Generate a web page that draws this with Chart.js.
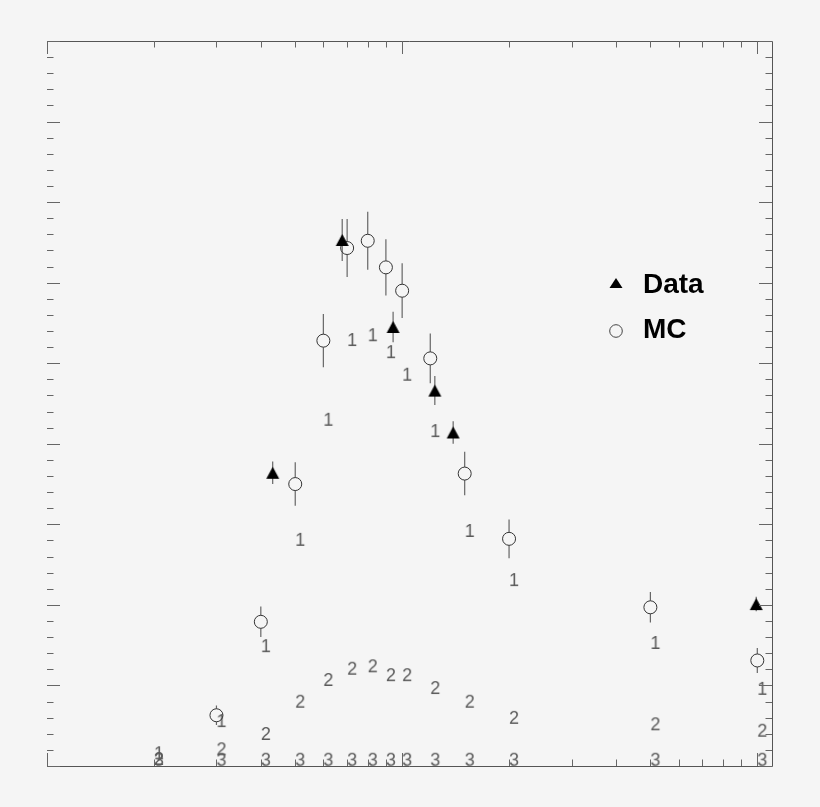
<!DOCTYPE html>
<html>
<head>
<meta charset="utf-8">
<script src="https://cdn.jsdelivr.net/npm/chart.js@4.4.1/dist/chart.umd.min.js"></script>
<style>
  html, body { margin: 0; padding: 0; background: #f5f5f5; }
  #wrap { width: 820px; height: 807px; }
</style>
</head>
<body>
<div id="wrap"><canvas id="plot" width="820" height="807"></canvas></div>
<script>
// MC (open circles) with errors
const mcX = [3, 4, 5, 6, 7, 8, 9, 10, 12, 15, 20, 50, 100];
const mcY = [0.63, 1.79, 3.50, 5.28, 6.43, 6.52, 6.19, 5.90, 5.06, 3.63, 2.82, 1.97, 1.31];
const mcErr = [0.12, 0.19, 0.27, 0.33, 0.36, 0.36, 0.35, 0.34, 0.31, 0.27, 0.24, 0.19, 0.155];

// Data (filled triangles) with errors
const dataX = [4.32, 6.78, 9.43, 12.36, 13.92, 99.3];
const dataY = [3.64, 6.53, 5.45, 4.66, 4.14, 2.01];
const dataErr = [0.14, 0.26, 0.19, 0.18, 0.14, 0.09];

// numbered markers 1, 2, 3
const markX = [2, 3, 4, 5, 6, 7, 8, 9, 10, 12, 15, 20, 50, 100];
const mark1 = [0.17, 0.57, 1.50, 2.82, 4.31, 5.30, 5.36, 5.15, 4.87, 4.17, 2.93, 2.32, 1.54, 0.97];
const mark2 = [0.10, 0.22, 0.41, 0.81, 1.08, 1.22, 1.25, 1.14, 1.14, 0.98, 0.81, 0.61, 0.53, 0.45];
const mark3 = [0.09, 0.09, 0.09, 0.09, 0.09, 0.09, 0.09, 0.09, 0.09, 0.09, 0.09, 0.09, 0.09, 0.09];

// axis ticks (no labels drawn)
const xMajorTicks = [1, 10, 100];
const xMinorTicks = [2, 3, 4, 5, 6, 7, 8, 9, 20, 30, 40, 50, 60, 70, 80, 90];
const yMajorTicks = [0, 1, 2, 3, 4, 5, 6, 7, 8, 9];
const yMinorTicks = [0.2, 0.4, 0.6, 0.8, 1.2, 1.4, 1.6, 1.8, 2.2, 2.4, 2.6, 2.8,
  3.2, 3.4, 3.6, 3.8, 4.2, 4.4, 4.6, 4.8, 5.2, 5.4, 5.6, 5.8, 6.2, 6.4, 6.6, 6.8,
  7.2, 7.4, 7.6, 7.8, 8.2, 8.4, 8.6, 8.8];

const legendNames = ['Data', 'MC'];

const MC_R = 6.5;

function pts(xs, ys) {
    return xs.map((x, i) => ({ x: x, y: ys[i] }));
}

// small canvas used as point style for a digit marker
function digitMark(ch) {
    const c = document.createElement('canvas');
    c.width = 34;
    c.height = 26;
    const g = c.getContext('2d');
    g.fillStyle = '#5a5a5a';
    g.font = '18px "Liberation Sans", Arial, sans-serif';
    g.textAlign = 'center';
    g.textBaseline = 'alphabetic';
    g.fillText(ch, 22, 13 + 6.5);
    return c;
}

function triangleMark(w, h) {
    const c = document.createElement('canvas');
    c.width = w + 2;
    c.height = h + 2;
    const g = c.getContext('2d');
    g.fillStyle = '#000';
    g.beginPath();
    g.moveTo(1, h + 1);
    g.lineTo(w + 1, h + 1);
    g.lineTo(w / 2 + 1, 1);
    g.closePath();
    g.fill();
    return c;
}

const errorBars = {
    id: 'errorBars',
    beforeDatasetsDraw(chart) {
        const { ctx, scales: { x, y } } = chart;
        ctx.save();
        ctx.strokeStyle = '#666';
        ctx.lineWidth = 1.2;
        // data: full bar, the triangle covers it
        dataX.forEach((v, i) => {
            const px = x.getPixelForValue(v);
            ctx.beginPath();
            ctx.moveTo(px, y.getPixelForValue(dataY[i] + dataErr[i]));
            ctx.lineTo(px, y.getPixelForValue(dataY[i] - dataErr[i]));
            ctx.stroke();
        });
        // mc: bar stops at the circle edge
        mcX.forEach((v, i) => {
            const px = x.getPixelForValue(v);
            const py = y.getPixelForValue(mcY[i]);
            const top = y.getPixelForValue(mcY[i] + mcErr[i]);
            const bot = y.getPixelForValue(mcY[i] - mcErr[i]);
            if (py - top > MC_R) {
                ctx.beginPath();
                ctx.moveTo(px, top);
                ctx.lineTo(px, py - MC_R);
                ctx.moveTo(px, py + MC_R);
                ctx.lineTo(px, bot);
                ctx.stroke();
            }
        });
        ctx.restore();
    }
};

const frame = {
    id: 'frame',
    afterDraw(chart) {
        const { ctx, chartArea: a, scales: { x, y } } = chart;
        ctx.save();
        ctx.strokeStyle = '#555';
        ctx.lineWidth = 1;
        // top, right, bottom lines (no left line)
        ctx.beginPath();
        ctx.moveTo(a.left, a.top + 0.5);
        ctx.lineTo(a.right + 0.5, a.top + 0.5);
        ctx.lineTo(a.right + 0.5, a.bottom + 0.5);
        ctx.lineTo(a.left, a.bottom + 0.5);
        ctx.stroke();

        ctx.strokeStyle = '#666';
        ctx.beginPath();
        const xt = (v, len) => {
            const px = Math.round(x.getPixelForValue(v)) + 0.5;
            ctx.moveTo(px, a.top);
            ctx.lineTo(px, a.top + len);
            ctx.moveTo(px, a.bottom);
            ctx.lineTo(px, a.bottom - len);
        };
        const yt = (v, len) => {
            const py = Math.round(y.getPixelForValue(v)) + 0.5;
            ctx.moveTo(a.left, py);
            ctx.lineTo(a.left + len, py);
            ctx.moveTo(a.right, py);
            ctx.lineTo(a.right - len, py);
        };
        xMajorTicks.forEach(v => xt(v, 13));
        xMinorTicks.forEach(v => xt(v, 6.5));
        yMajorTicks.forEach(v => yt(v, 13));
        yMinorTicks.forEach(v => yt(v, 6.5));
        ctx.stroke();

        // legend
        const lx = 616, ly1 = 283, ly2 = 331;
        ctx.fillStyle = '#000';
        ctx.beginPath();
        ctx.moveTo(lx - 6.5, ly1 + 5);
        ctx.lineTo(lx + 6.5, ly1 + 5);
        ctx.lineTo(lx, ly1 - 5);
        ctx.closePath();
        ctx.fill();
        ctx.strokeStyle = '#444';
        ctx.beginPath();
        ctx.arc(lx, ly2, 6.3, 0, Math.PI * 2);
        ctx.stroke();
        ctx.font = 'bold 28px "Liberation Sans", Arial, sans-serif';
        ctx.textBaseline = 'alphabetic';
        ctx.fillText(legendNames[0], 643, 293);
        ctx.fillText(legendNames[1], 643, 338);
        ctx.restore();
    }
};

const ctx = document.getElementById('plot').getContext('2d');
new Chart(ctx, {
    type: 'scatter',
    data: {
        datasets: [
            {
                label: legendNames[0],
                data: pts(dataX, dataY),
                pointStyle: triangleMark(13, 12),
                pointRadius: 7,
                clip: false
            },
            {
                label: legendNames[1],
                data: pts(mcX, mcY),
                pointStyle: 'circle',
                pointRadius: MC_R,
                borderWidth: 1,
                borderColor: '#333',
                backgroundColor: 'rgba(0,0,0,0)',
                clip: false
            },
            {
                label: '1',
                data: pts(markX, mark1),
                pointStyle: digitMark('1'),
                pointRadius: 3,
                clip: false
            },
            {
                label: '2',
                data: pts(markX, mark2),
                pointStyle: digitMark('2'),
                pointRadius: 3,
                clip: false
            },
            {
                label: '3',
                data: pts(markX, mark3),
                pointStyle: digitMark('3'),
                pointRadius: 3,
                clip: false
            }
        ]
    },
    options: {
        responsive: false,
        animation: false,
        events: [],
        layout: { padding: { left: 47, top: 41, right: 48, bottom: 41 } },
        plugins: {
            legend: { display: false },
            tooltip: { enabled: false }
        },
        scales: {
            x: { type: 'logarithmic', min: 1, max: 110, display: false },
            y: { type: 'linear', min: 0, max: 9, display: false }
        }
    },
    plugins: [errorBars, frame]
});
</script>
</body>
</html>
